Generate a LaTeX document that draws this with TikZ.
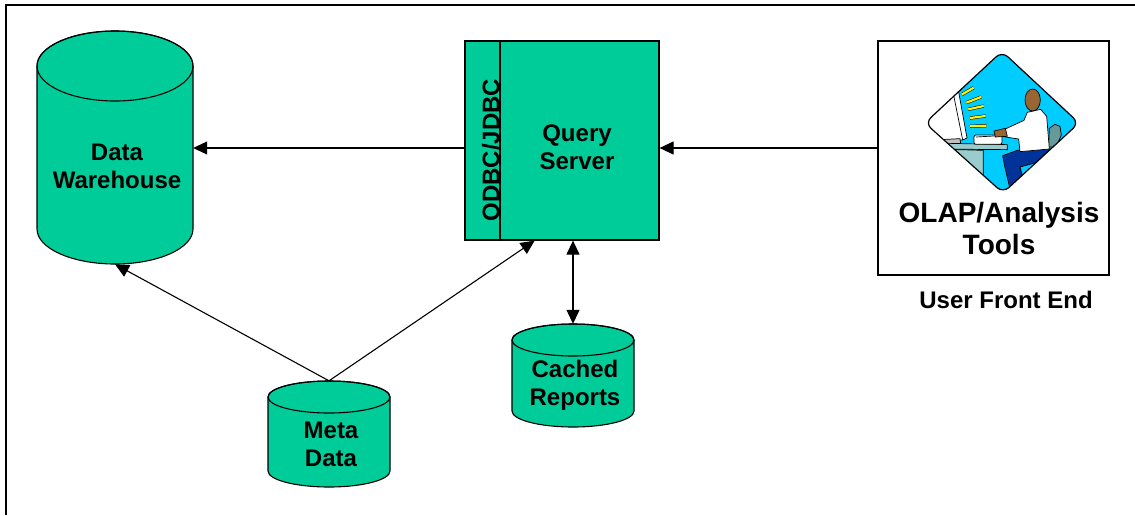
\documentclass[tikz,border=0pt]{standalone}
\usepackage{fontspec}
\setmainfont{Liberation Sans}
\usetikzlibrary{arrows.meta,calc}

\definecolor{dbgreen}{RGB}{0,204,153}
\definecolor{iconsky}{RGB}{0,204,255}
\definecolor{desk}{RGB}{153,204,204}
\definecolor{chair}{RGB}{102,153,153}
\definecolor{pants}{RGB}{0,51,153}
\definecolor{skin}{RGB}{153,102,51}
\definecolor{standgray}{RGB}{192,192,192}

\tikzset{
  cyl/.style={fill=dbgreen, draw=black, line width=1.1pt},
  cylline/.style={draw=black, line width=1.1pt},
  lbl/.style={font=\bfseries\fontsize{24}{28}\selectfont, align=center, inner sep=0pt},
  bigbox/.style={draw=black, line width=1.2pt, inner sep=0pt},
  conn/.style={line width=1.1pt, -{Triangle[length=14pt,width=13pt]}},
  bothconn/.style={line width=1.1pt, {Triangle[length=14pt,width=13pt]}-{Triangle[length=14pt,width=13pt]}},
  iconline/.style={draw=black, line width=0.7pt},
}

% database cylinder: name, centre x, cap centre y, base centre y, x radius, y radius
\newcommand{\dbstore}[6]{%
  \path[cyl] ({#2-#5},#3) -- ({#2-#5},#4)
    arc[start angle=180, end angle=360, x radius=#5pt, y radius=#6pt]
    -- ({#2+#5},#3)
    arc[start angle=0, end angle=180, x radius=#5pt, y radius=#6pt] -- cycle;
  \draw[cylline] (#2,#3) ellipse [x radius=#5pt, y radius=#6pt];
  \node[inner sep=0pt, minimum width={2*#5pt}, minimum height={#4-#3+2*#6pt}]
    (#1) at (#2,{(#3+#4)/2}) {};
}

\begin{document}
\begin{tikzpicture}[x=1pt, y=-1pt]
\useasboundingbox (0,0) rectangle (1135,515);

% outer frame
\draw[line width=1.5pt] (6,515) -- (6,5) -- (1135,5);

% data stores
\dbstore{dw}{115}{66}{229}{78}{35}
\node[lbl] (dwT) at (117,166) {Data\\Warehouse};

\dbstore{cr}{573}{340}{411}{61}{16}
\node[lbl] (crT) at (575,385) {Cached\\Reports};

\dbstore{meta}{329}{397}{471}{61}{16}
\node[lbl] (metaT) at (331,444) {Meta\\Data};

% query server with ODBC/JDBC interface strip
\node[bigbox, fill=dbgreen, minimum width=194pt, minimum height=199pt] (qs) at (562,140.5) {};
\draw[line width=1.1pt] (500,41) -- (500,240);
\node[lbl, rotate=90] (odbc) at (491,150) {ODBC/JDBC};
\node[lbl] (qsT) at (577,147) {Query\\Server};

% front end box
\node[bigbox, fill=white, minimum width=231pt, minimum height=234pt] (olap) at (993.5,158) {};
\node[lbl, font=\bfseries\fontsize{28}{32}\selectfont] (olapT) at (999,228) {OLAP/Analysis\\Tools};
\node[lbl, font=\bfseries\fontsize{24}{28}\selectfont] (ufe) at (1006,300) {User Front End};

% user at workstation icon
\begin{scope}[shift={(920,45)}, x=0.3333pt, y=-0.3333pt]
  \def\diam{(15,234) -- (246,19) -- (477,234) -- (249,444) -- cycle}
  \begin{scope}
    \clip[rounded corners=8pt] \diam;
    \fill[iconsky] (0,0) rectangle (490,460);
    % monitor
    \filldraw[fill=white, iconline] (100,146) -- (116,141) -- (141,279) -- (128,285) -- (0,290) -- (0,146) -- cycle;
    \draw[iconline] (100,146) -- (128,285);
    \filldraw[fill=standgray, iconline] (60,284) -- (120,281) -- (122,296) -- (60,298) -- cycle;
    % desk
    \filldraw[fill=desk, iconline] (40,294) -- (262,299) -- (262,314) -- (40,312) -- cycle;
    \filldraw[fill=desk, iconline] (40,312) -- (190,316) -- (190,470) -- (40,470) -- cycle;
    % keyboard
    \filldraw[fill=white, iconline, rounded corners=2pt] (162,270) rectangle (246,298);
    \draw[iconline] (168,276) -- (240,272);
    % chair back
    \filldraw[fill=chair, iconline] (388,250) -- (405,238) -- (420,244) -- (424,270) -- (408,306) -- (386,306) -- cycle;
    % legs
    \filldraw[fill=pants, iconline] (248,332) -- (292,316) -- (386,308) -- (392,340) -- (330,358) -- (300,366) -- (318,430) -- (272,440) -- (254,364) -- cycle;
    % shirt and arm
    \filldraw[fill=white, iconline] (322,202) -- (362,193) -- (380,214) -- (388,312) -- (300,320) -- (296,282) -- (256,276) -- (256,252) -- (312,226) -- cycle;
    % hand
    \filldraw[fill=skin, iconline] (222,258) -- (256,250) -- (262,274) -- (226,276) -- cycle;
    % head
    \filldraw[fill=skin, iconline] (338,165) ellipse [x radius=23, y radius=33];
    % light rays from the screen
    \foreach \a/\b/\c/\d in {125/149/161/128, 139/173/183/156, 145/193/191/183, 150/219/197/213, 150/244/199/242}
      \draw[line width=0.5pt, double=yellow, double distance=2.2pt] (\a,\b) -- (\c,\d);
  \end{scope}
  \draw[rounded corners=8pt, line width=1.2pt] \diam;
\end{scope}

% connectors
\coordinate (lane) at (0,148);
\coordinate (qsIn) at ($(qs.south west)!0.36!(qs.south east)$);
\draw[conn] (qs.west |- lane) -- (dw.east |- lane);
\draw[conn] (olap.west |- lane) -- (qs.east |- lane);
\draw[conn] (meta.north) -- (dw.south);
\draw[conn] (meta.north) -- (qsIn);
\draw[bothconn] (cr.north |- qs.south) -- (cr.north);

\end{tikzpicture}
\end{document}
